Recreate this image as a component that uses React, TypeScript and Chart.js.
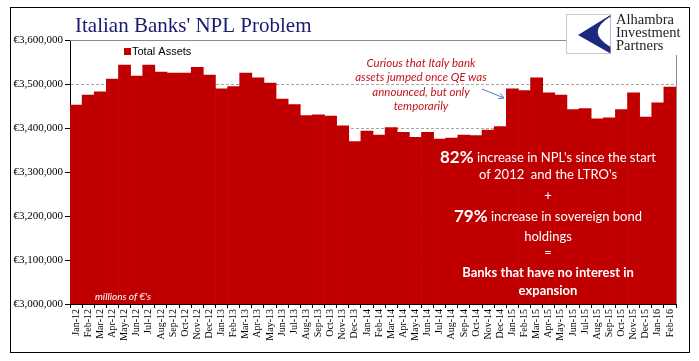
import React, { useEffect, useRef } from "react";
import { Chart, registerables } from "chart.js";

Chart.register(...registerables);

// ---------------- data ----------------
const categories = [
  "Jan-12", "Feb-12", "Mar-12", "Apr-12", "May-12", "Jun-12", "Jul-12", "Aug-12", "Sep-12", "Oct-12", "Nov-12", "Dec-12",
  "Jan-13", "Feb-13", "Mar-13", "Apr-13", "May-13", "Jun-13", "Jul-13", "Aug-13", "Sep-13", "Oct-13", "Nov-13", "Dec-13",
  "Jan-14", "Feb-14", "Mar-14", "Apr-14", "May-14", "Jun-14", "Jul-14", "Aug-14", "Sep-14", "Oct-14", "Nov-14", "Dec-14",
  "Jan-15", "Feb-15", "Mar-15", "Apr-15", "May-15", "Jun-15", "Jul-15", "Aug-15", "Sep-15", "Oct-15", "Nov-15", "Dec-15",
  "Jan-16", "Feb-16",
];

const totalAssets = [
  3452000, 3475000, 3482000, 3511000, 3543000, 3518000, 3543000, 3527000, 3525000, 3525000, 3538000, 3520000,
  3489000, 3494000, 3525000, 3514000, 3502000, 3466000, 3453000, 3428000, 3430000, 3427000, 3405000, 3369000,
  3393000, 3384000, 3401000, 3390000, 3379000, 3390000, 3375000, 3377000, 3384000, 3383000, 3395000, 3403000,
  3489000, 3485000, 3514000, 3480000, 3475000, 3442000, 3444000, 3421000, 3423000, 3442000, 3480000, 3425000,
  3457000, 3493000,
];

const yMin = 3000000;
const yMax = 3600000;
const yStep = 100000;

const seriesName = "Total Assets";
const titleText = "Italian Banks' NPL Problem";
const logoLines = ["Alhambra", "Investment", "Partners"];
const unitsNote = "millions of \u20AC's";
const noteLines = ["Curious that Italy bank", "assets jumped once QE was", "announced, but only", "temporarily"];
const summaryLines = [
  ["82%", " increase in NPL's since the start"],
  ["of 2012  and the LTRO's"],
  ["+"],
  ["79%", " increase in sovereign bond"],
  ["holdings"],
  ["="],
  ["Banks that have no interest in"],
  ["expansion"],
];

// ---------------- drawing helpers ----------------
const BAR_RED = "#C00000";

const overlayPlugin = {
  id: "overlay",
  afterDraw(chart: any) {
    const ctx: CanvasRenderingContext2D = chart.ctx;
    const ca = chart.chartArea;
    ctx.save();

    // plot area border (top & right, gray)
    ctx.strokeStyle = "#8c8c8c";
    ctx.lineWidth = 1;
    ctx.beginPath();
    ctx.moveTo(ca.left, Math.round(ca.top) + 0.5);
    ctx.lineTo(ca.right, Math.round(ca.top) + 0.5);
    ctx.moveTo(Math.round(ca.right) + 0.5, ca.top);
    ctx.lineTo(Math.round(ca.right) + 0.5, ca.bottom);
    ctx.stroke();

    // units note
    ctx.fillStyle = "#ffffff";
    ctx.font = "italic 10px Lato";
    ctx.textBaseline = "middle";
    ctx.textAlign = "left";
    ctx.fillText(unitsNote, 95, 297);

    // annotation (red italic)
    ctx.fillStyle = "#c0141c";
    ctx.font = "italic 11.5px Lato";
    ctx.textAlign = "center";
    const noteY = [63, 77.5, 92, 106];
    noteLines.forEach((t, i) => ctx.fillText(t, 421, noteY[i]));

    // arrow
    ctx.strokeStyle = "#4a7ebb";
    ctx.lineWidth = 1;
    const ax0 = 482, ay0 = 89, ax1 = 504, ay1 = 98;
    ctx.beginPath();
    ctx.moveTo(ax0, ay0);
    ctx.lineTo(ax1, ay1);
    const ang = Math.atan2(ay1 - ay0, ax1 - ax0);
    const ah = 6;
    ctx.moveTo(ax1, ay1);
    ctx.lineTo(ax1 - ah * Math.cos(ang - 0.5), ay1 - ah * Math.sin(ang - 0.5));
    ctx.moveTo(ax1, ay1);
    ctx.lineTo(ax1 - ah * Math.cos(ang + 0.5), ay1 - ah * Math.sin(ang + 0.5));
    ctx.stroke();

    // summary block (white)
    const summaryY = [158, 175, 196, 217, 237, 253, 273, 291];
    const cx = 548;
    ctx.fillStyle = "#ffffff";
    ctx.textAlign = "left";
    summaryLines.forEach((segs, i) => {
      const fonts = segs.map((s) => {
        if (/^\d+%$/.test(s)) return "bold 17px Lato";
        if (i >= 6) return "bold 13px Lato";
        return "13px Lato";
      });
      let w = 0;
      segs.forEach((s, j) => {
        ctx.font = fonts[j];
        w += ctx.measureText(s).width;
      });
      let x = cx - w / 2;
      segs.forEach((s, j) => {
        ctx.font = fonts[j];
        ctx.fillText(s, x, summaryY[i]);
        x += ctx.measureText(s).width;
      });
    });

    // title
    ctx.fillStyle = "#1a1a6e";
    ctx.font = "21px 'Liberation Serif'";
    ctx.textAlign = "left";
    ctx.textBaseline = "alphabetic";
    ctx.fillText(titleText, 75, 32);

    // legend
    ctx.fillStyle = BAR_RED;
    ctx.fillRect(124, 48, 7, 7);
    ctx.fillStyle = "#000000";
    ctx.font = "11px 'Liberation Sans'";
    ctx.textBaseline = "middle";
    ctx.fillText(seriesName, 132, 51.5);

    // logo area
    ctx.fillStyle = "#ffffff";
    ctx.fillRect(566, 8, 123, 47);
    ctx.strokeStyle = "#c8c8c8";
    ctx.strokeRect(566.5, 14.5, 44, 39);
    ctx.fillStyle = "#1b2a80";
    ctx.beginPath();
    ctx.moveTo(610.5, 15);
    ctx.lineTo(578, 35);
    ctx.lineTo(610.5, 53.5);
    ctx.closePath();
    ctx.fill();
    ctx.fillStyle = "#ffffff";
    ctx.beginPath();
    ctx.moveTo(610.5, 16.5);
    ctx.quadraticCurveTo(585, 32, 610.5, 47);
    ctx.closePath();
    ctx.fill();
    ctx.fillStyle = "#222222";
    ctx.font = "14.5px 'Liberation Serif'";
    ctx.textBaseline = "middle";
    ctx.textAlign = "left";
    logoLines.forEach((t, i) => ctx.fillText(t, 616, 20 + i * 13));

    // outer frame
    ctx.fillStyle = "#ffffff";
    ctx.fillRect(0, 0, 10, chart.height);
    ctx.fillRect(0, 0, chart.width, 7);
    ctx.fillRect(690, 0, chart.width - 690, chart.height);
    ctx.fillRect(0, 353, chart.width, chart.height - 353);
    ctx.strokeStyle = "#000000";
    ctx.lineWidth = 1;
    ctx.strokeRect(10.5, 7.5, 679, 345);

    ctx.restore();
  },
};

export default function App() {
  const canvasRef = useRef<HTMLCanvasElement | null>(null);

  useEffect(() => {
    if (!canvasRef.current) return;
    const chart = new Chart(canvasRef.current, {
      type: "bar",
      data: {
        labels: categories,
        datasets: [
          {
            label: seriesName,
            data: totalAssets,
            backgroundColor: BAR_RED,
            borderWidth: 0,
            categoryPercentage: 1,
            barPercentage: 1,
          },
        ],
      },
      options: {
        responsive: false,
        animation: false,
        devicePixelRatio: 1,
        layout: { padding: { left: 0, right: 23, top: 40, bottom: 0 } },
        plugins: {
          legend: { display: false },
          title: { display: false },
          tooltip: { enabled: false },
        },
        scales: {
          x: {
            offset: true,
            afterFit: (s: any) => {
              s.height = 57;
            },
            grid: {
              display: true,
              drawOnChartArea: false,
              drawTicks: true,
              tickLength: 4,
              tickColor: "#000000",
              offset: true,
            },
            border: { display: true, color: "#000000", width: 1 },
            ticks: {
              autoSkip: false,
              minRotation: 90,
              maxRotation: 90,
              padding: 1,
              color: "#000000",
              font: { family: "'Liberation Serif'", size: 10 },
            },
          },
          y: {
            min: yMin,
            max: yMax,
            afterFit: (s: any) => {
              s.width = 70;
            },
            grid: {
              color: "#a6a6a6",
              tickColor: "#000000",
              tickLength: 5,
              tickBorderDash: [],
            },
            border: { display: true, color: "#000000", width: 1, dash: [3, 2] },
            ticks: {
              stepSize: yStep,
              padding: 2,
              color: "#000000",
              font: { family: "'Liberation Serif'", size: 11 },
              callback: (v: any) => "\u20AC" + Number(v).toLocaleString("en-US"),
            },
          },
        },
      },
      plugins: [overlayPlugin],
    } as any);
    return () => chart.destroy();
  }, []);

  return (
    <div style={{ position: "fixed", left: 0, top: 0, width: 699, height: 361, background: "#fff" }}>
      <canvas ref={canvasRef} width={699} height={361} style={{ display: "block" }} />
    </div>
  );
}
